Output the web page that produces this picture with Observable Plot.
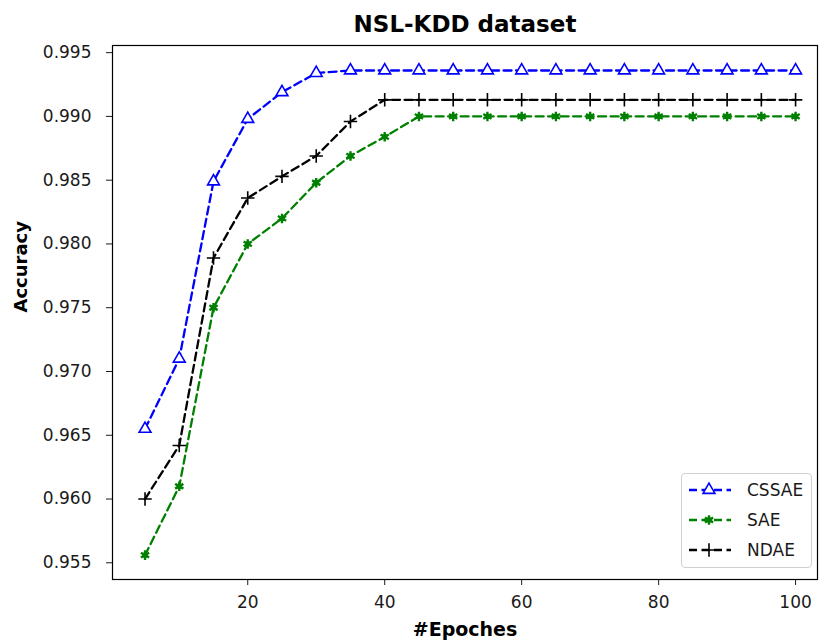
<!DOCTYPE html>
<html>
<head>
<meta charset="utf-8">
<script src="https://cdn.jsdelivr.net/npm/d3@7"></script>
<script src="https://cdn.jsdelivr.net/npm/@observablehq/plot@0.6"></script>
<style>
  html, body { margin: 0; padding: 0; background: #fff; }
  #wrap { position: relative; width: 821px; height: 641px; font-family: "DejaVu Sans", sans-serif; }
  #legend { position: absolute; left: 681px; top: 473px; width: 131px; height: 95px;
    border: 1px solid #d0d0d0; border-radius: 4px; background: rgba(255,255,255,0.85); box-sizing: border-box; }
  .row { position: absolute; left: 0; height: 30px; display: flex; align-items: center; }
  .row span { font-size: 17px; color: #1a1a1a; margin-left: 16px; }
</style>
</head>
<body>
<div id="wrap"></div>
<script>
const epochs = [5,10,15,20,25,30,35,40,45,50,55,60,65,70,75,80,85,90,95,100];
const cssae = [0.9655,0.9710,0.9849,0.9898,0.9919,0.9934,0.9936,0.9936,0.9936,0.9936,0.9936,0.9936,0.9936,0.9936,0.9936,0.9936,0.9936,0.9936,0.9936,0.9936];
const sae   = [0.9556,0.9610,0.9750,0.9800,0.9820,0.9848,0.9869,0.9884,0.9900,0.9900,0.9900,0.9900,0.9900,0.9900,0.9900,0.9900,0.9900,0.9900,0.9900,0.9900];
const ndae  = [0.9600,0.9642,0.9789,0.9836,0.9853,0.9869,0.9896,0.9913,0.9913,0.9913,0.9913,0.9913,0.9913,0.9913,0.9913,0.9913,0.9913,0.9913,0.9913,0.9913];
const seriesNames = ["CSSAE","SAE","NDAE"];
const seriesColors = ["#0000ff","#008000","#000000"];
const xTicks = [20,40,60,80,100];
const yTicks = [0.955,0.960,0.965,0.970,0.975,0.980,0.985,0.990,0.995];

const toRows = (vals, name) => epochs.map((e,i) => ({epoch: e, acc: vals[i], series: name}));
const dC = toRows(cssae, "CSSAE"), dS = toRows(sae, "SAE"), dN = toRows(ndae, "NDAE");

const dash = "8,4.5";
const chart = Plot.plot({
  width: 821, height: 641,
  marginLeft: 112, marginRight: 4, marginTop: 45, marginBottom: 62,
  style: {fontFamily: "DejaVu Sans, sans-serif", fontSize: "17px", color: "#1a1a1a", background: "#fff"},
  x: {domain: [0.25, 103.2], ticks: xTicks, tickSize: 6, tickPadding: 10, label: null},
  y: {domain: [0.95369, 0.99556], ticks: yTicks, tickFormat: ".3f", tickSize: 6, tickPadding: 15, label: null},
  marks: [
    Plot.line(dC, {x: "epoch", y: "acc", stroke: seriesColors[0], strokeWidth: 2.3, strokeDasharray: dash}),
    Plot.line(dS, {x: "epoch", y: "acc", stroke: seriesColors[1], strokeWidth: 2.3, strokeDasharray: dash}),
    Plot.line(dN, {x: "epoch", y: "acc", stroke: seriesColors[2], strokeWidth: 2.3, strokeDasharray: dash}),
    Plot.dot(dC, {x: "epoch", y: "acc", symbol: "triangle", r: 4.4, stroke: seriesColors[0], fill: "white", strokeWidth: 1.6}),
    Plot.dot(dS, {x: "epoch", y: "acc", symbol: "asterisk", r: 4.5, stroke: seriesColors[1], strokeWidth: 2.4}),
    Plot.dot(dS, {x: "epoch", y: "acc", symbol: "circle", r: 2.8, fill: seriesColors[1]}),
    Plot.dot(dN, {x: "epoch", y: "acc", symbol: "plus", r: 4.4, stroke: seriesColors[2], strokeWidth: 1.6}),
    Plot.frame({stroke: "#000", strokeWidth: 1.2}),
    Plot.text(["NSL-KDD dataset"], {text: d => d, frameAnchor: "top", lineAnchor: "middle", dy: -21, fontSize: 23, fontWeight: "bold", fill: "#000"}),
    Plot.text(["#Epoches"], {text: d => d, frameAnchor: "bottom", lineAnchor: "middle", dy: 50, fontSize: 19, fontWeight: "bold", fill: "#000"}),
    Plot.text(["Accuracy"], {text: d => d, frameAnchor: "left", lineAnchor: "middle", dx: -91, rotate: -90, fontSize: 18, fontWeight: "bold", fill: "#000"})
  ]
});
const wrap = document.getElementById("wrap");
wrap.appendChild(chart);

// Legend
const legend = document.createElement("div");
legend.id = "legend";
wrap.appendChild(legend);
seriesNames.forEach((name, i) => {
  const row = document.createElement("div");
  row.className = "row";
  row.style.top = (1 + i * 30) + "px";
  row.style.left = "5px";
  const svg = d3.create("svg").attr("width", 44).attr("height", 30);
  const c = seriesColors[i];
  svg.append("line").attr("x1", 2).attr("x2", 44).attr("y1", 15).attr("y2", 15)
    .attr("stroke", c).attr("stroke-width", 2.3).attr("stroke-dasharray", dash);
  const sym = d3.symbol();
  if (i === 0) {
    svg.append("path").attr("transform", "translate(22,15)").attr("d", sym.type(d3.symbolTriangle).size(Math.PI * 4.4 * 4.4)())
      .attr("fill", "white").attr("stroke", c).attr("stroke-width", 1.6);
  } else if (i === 1) {
    svg.append("path").attr("transform", "translate(22,15)").attr("d", sym.type(d3.symbolAsterisk).size(Math.PI * 4.5 * 4.5)())
      .attr("fill", "none").attr("stroke", c).attr("stroke-width", 2.4);
    svg.append("circle").attr("cx", 22).attr("cy", 15).attr("r", 2.8).attr("fill", c);
  } else {
    svg.append("path").attr("transform", "translate(22,15)").attr("d", sym.type(d3.symbolPlus).size(Math.PI * 4.4 * 4.4)())
      .attr("fill", "none").attr("stroke", c).attr("stroke-width", 1.6);
  }
  row.appendChild(svg.node());
  const span = document.createElement("span");
  span.textContent = name;
  row.appendChild(span);
  legend.appendChild(row);
});
</script>
</body>
</html>
